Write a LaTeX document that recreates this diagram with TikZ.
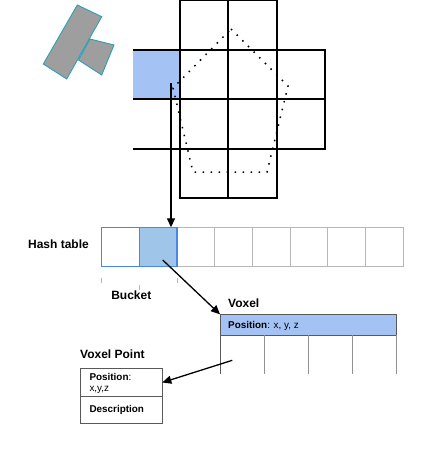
\documentclass[tikz,border=0pt]{standalone}
\usepackage{fontspec}
\setmainfont{Liberation Sans}
\usetikzlibrary{arrows.meta,positioning}
\definecolor{cellblue}{HTML}{A4C2F4}
\definecolor{bucketblue}{HTML}{9FC5E8}
\definecolor{edgeblue}{HTML}{4A86E8}
\definecolor{tablegray}{HTML}{B7B7B7}
\definecolor{boxgray}{HTML}{595959}
\definecolor{shapegray}{HTML}{9E9E9E}
\definecolor{shapeedge}{HTML}{2CA0B4}

\begin{document}
\begin{tikzpicture}[x=1pt, y=-1pt, node distance=37.7pt, font=\fontsize{9.9}{12.6}\selectfont]
\tikzstyle{cell} = [rectangle, draw=tablegray, line width=1pt, minimum width=37.7pt, minimum height=39.4pt, inner sep=0pt, outer sep=0pt]
\tikzstyle{bucket} = [cell, draw=edgeblue, line width=1.3pt]
\tikzstyle{heading} = [font=\fontsize{12}{14}\selectfont\bfseries, inner sep=0pt]
\tikzstyle{grid} = [line width=1.1pt]
\tikzstyle{arrow} = [-{Triangle[length=9pt,width=8pt]}, line width=1.3pt]
\tikzstyle{field} = [rectangle, draw=boxgray, line width=1pt, inner sep=0pt, outer sep=0pt]
\useasboundingbox (0,0) rectangle (422,450);

% scanned object
\filldraw[fill=shapegray, draw=shapeedge, line width=0.9pt] (77.3,5) -- (101.7,16.7) -- (66.7,79) -- (43.3,64) -- cycle;
\filldraw[fill=shapegray, draw=shapeedge, line width=0.9pt] (90,39) -- (114,45) -- (101.7,75) -- (78.5,60) -- cycle;

% voxel grid
\node[rectangle, fill=cellblue, minimum width=47pt, minimum height=49pt, inner sep=0pt] (gcell) at (156.5,74.5) {};
\draw[grid] (180,0) rectangle (277,198);
\draw[grid] (228,0) -- (228,198);
\draw[grid] (133,50) -- (325,50) -- (325,149) -- (133,149);
\draw[grid] (133,99) -- (325,99);
\draw[line width=1.5pt, dash pattern=on 1.5pt off 6.5pt] (231,29) -- (288,86) -- (267,172) -- (193,172) -- (173,88) -- cycle;

% hash table
\node[bucket, fill=white] (c1) at (120.5,247) {};
\node[bucket, fill=bucketblue, right of=c1] (c2) {};
\node[cell, right of=c2] (c3) {};
\node[cell, right of=c3] (c4) {};
\node[cell, right of=c4] (c5) {};
\node[cell, right of=c5] (c6) {};
\node[cell, right of=c6] (c7) {};
\node[cell, right of=c7] (c8) {};
\draw[edgeblue, line width=1.3pt] (c1.north west) rectangle (c2.south east);
\draw[edgeblue, line width=1.3pt] (c1.north east) -- (c1.south east);
\node[heading] (hash) at (58.5,244) {Hash table};

\draw[tablegray, line width=0.6pt] (c1.south west) ++(0,11.5) -- ++(0,5);
\draw[tablegray, line width=0.6pt] (c2.south west) ++(0,18) -- ++(0,5);
\draw[tablegray, line width=0.6pt] (c2.south east) ++(0,11.5) -- ++(0,5);
\node[heading] (bucketlabel) at (131.3,295) {Bucket};

% voxel
\node[field, fill=cellblue, minimum width=176.7pt, minimum height=20.7pt] (voxel) at (308.35,324.65) {};
\node[anchor=west, inner sep=0pt] (voxelpos) at (228,325.5) {\textbf{Position}: x, y, z};
\node[heading, anchor=west] (voxellabel) at (228,303) {Voxel};
\draw[boxgray, line width=1pt] (voxel.south west) -- ++(0,39);
\draw[tablegray!80!black, line width=1pt] (264.3,335) -- (264.3,374);
\draw[tablegray!80!black, line width=1pt] (308.7,335) -- (308.7,374);
\draw[tablegray!80!black, line width=1pt] (352.7,335) -- (352.7,374);
\draw[tablegray!80!black, line width=1pt] (voxel.south east) -- ++(0,39);

% voxel point
\node[field, minimum width=81.6pt, minimum height=28.4pt] (vpos) at (121.5,382.5) {};
\node[field, minimum width=81.6pt, minimum height=26.6pt, below=0pt of vpos] (vdesc) {};
\node[anchor=west, inner sep=0pt] (vposname) at (89.3,376.7) {\textbf{Position}:};
\node[anchor=west, inner sep=0pt] (vposval) at (89.3,389.5) {x,y,z};
\node[anchor=west, inner sep=0pt] (vdescname) at (89.3,410) {\textbf{Description}};
\node[heading, anchor=west] (vpointlabel) at (80,354.3) {Voxel Point};

% links
\coordinate (src) at (171,83);
\coordinate (slot) at (162.7,260);
\coordinate (entry) at (232.3,360.3);
\draw[arrow] (src) -- (src |- c2.north);
\draw[arrow] (slot) -- (voxel.north west);
\draw[arrow] (entry) -- (vpos.east);
\end{tikzpicture}
\end{document}
